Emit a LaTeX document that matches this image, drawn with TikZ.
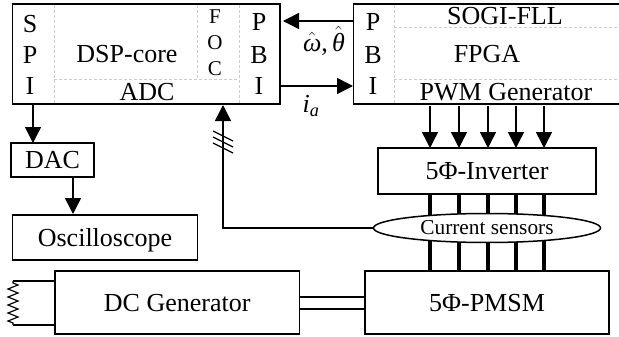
\documentclass[tikz,border=0pt]{standalone}
\usepackage{amsmath}
\usepackage{fontspec}
\setmainfont{Liberation Serif}
\usetikzlibrary{arrows.meta, decorations.pathmorphing, shapes.geometric}

\tikzset{
    block/.style={draw, line width=1.5pt, inner sep=0pt, text height=17pt, text depth=0pt, font=\fontsize{26}{28}\selectfont},
    lbl/.style={inner sep=0pt, font=\fontsize{26}{26}\selectfont},
    foclbl/.style={inner sep=0pt, font=\fontsize{21}{21}\selectfont},
    fine/.style={draw=black!20, line width=1pt, dash pattern=on 3pt off 2pt},
    conn/.style={line width=1.5pt, -{Triangle[length=16pt, width=16pt]}},
    wire/.style={line width=1.2pt},
    phase/.style={line width=4.2pt}
}

\begin{document}
\begin{tikzpicture}[x=1pt, y=-1pt]
    \useasboundingbox (0,0) rectangle (619,337);
    % dsp side
    \node [block, minimum width=267.5pt, minimum height=100pt] (dsp) at (146.25,54) {};
    \node [block, minimum width=267.5pt, minimum height=100pt] (fpga) at (487.25,54) {};
    \draw[fine] (54,5) -- (54,103);
    \draw[fine] (197,5) -- (197,80);
    \draw[fine] (239,5) -- (239,103);
    \draw[fine] (54,80) -- (239,80);
    \draw[fine] (394,5) -- (394,103);
    \draw[fine] (394,28) -- (619,28);
    \draw[fine] (394,80) -- (619,80);
    \node [lbl] (spis) at (30,24) {S};
    \node [lbl] (spip) at (30,55) {P};
    \node [lbl] (spii) at (30,86) {I};
    \node [lbl] (core) at (127,54) {DSP-core};
    \node [foclbl] (focf) at (215,17) {F};
    \node [foclbl] (foco) at (215,43) {O};
    \node [foclbl] (focc) at (215,69) {C};
    \node [lbl] (adc) at (147,92) {ADC};
    \node [lbl] (pbip) at (259,22) {P};
    \node [lbl] (pbib) at (259,55) {B};
    \node [lbl] (pbii) at (259,86) {I};
    % fpga side
    \node [lbl] (pbiq) at (373,22) {P};
    \node [lbl] (pbir) at (373,55) {B};
    \node [lbl] (pbis) at (373,86) {I};
    \node [lbl] (sogi) at (505,16) {SOGI-FLL};
    \node [lbl] (fpgatext) at (487,54) {FPGA};
    \node [lbl] (pwm) at (506,92) {PWM Generator};
    % lower blocks
    \node [block, minimum width=83pt, minimum height=34pt] (dac) at (52.5,160) {DAC};
    \node [block, minimum width=185pt, minimum height=45pt] (osc) at (105,237.5) {Oscilloscope};
    \node [block, minimum width=218pt, minimum height=46pt] (inv) at (487,171) {5Φ-Inverter};
    \node [block, minimum width=244.5pt, minimum height=63pt] (gen) at (177.25,302.5) {DC Generator};
    \node [block, minimum width=244pt, minimum height=63pt] (pmsm) at (487,302.5) {5Φ-PMSM};
    % arrows
    \coordinate (spiout) at (33,104);
    \coordinate (oscin) at (73,214);
    \coordinate (dacout) at (73,177);
    \coordinate (dacin) at (33,143);
    \draw[conn] (spiout) -- (dacin);
    \draw[conn] (dacout) -- (oscin);
    \coordinate (thetaend) at (354,21);
    \coordinate (thetatip) at (283,21);
    \coordinate (curend) at (281,86);
    \coordinate (curtip) at (353,86);
    \draw[conn] (thetaend) -- (thetatip);
    \draw[conn] (curend) -- (curtip);
    \node [lbl] (speed) at (324,41) {$\hat{\text{\itshape ω}}$,\,$\hat{\text{\itshape θ}}$};
    \node [lbl] (ia) at (311,106) {$\text{\itshape i}_{\text{\itshape a}}$};
    \foreach \x/\name in {430/a, 459/b, 488/c, 516/d, 544/e} {
        \coordinate (pwm\name) at (\x,106);
        \coordinate (inv\name) at (\x,148);
        \coordinate (top\name) at (\x,194);
        \coordinate (bot\name) at (\x,271);
        \draw[conn] (pwm\name) -- (inv\name);
        \draw[phase] (top\name) -- (bot\name);
    }
    \node [draw, ellipse, fill=white, line width=1.5pt, minimum width=227pt, minimum height=29pt, inner sep=0pt, font=\fontsize{21.3}{22}\selectfont] (sensors) at (487,228) {Current sensors};
    \coordinate (adcin) at (223,105);
    \coordinate (sensbend) at (223,228);
    \draw[conn] (sensors.west) -- (sensbend) -- (adcin);
    \foreach \y in {131,137,143} {
        \coordinate (hashl) at (213,\y);
        \coordinate (hashr) at (233,\y+10);
        \draw[wire] (hashl) -- (hashr);
    }
    % shaft
    \coordinate (shafta) at (299,297);
    \coordinate (shaftb) at (365,297);
    \coordinate (shaftc) at (299,309);
    \coordinate (shaftd) at (365,309);
    \draw[wire] (shafta) -- (shaftb);
    \draw[wire] (shaftc) -- (shaftd);
    % load resistor
    \coordinate (loada) at (55,281);
    \coordinate (loadb) at (13,281);
    \coordinate (loadc) at (13,325);
    \coordinate (loadd) at (55,325);
    \draw[wire] (loada) -- (loadb);
    \draw[wire] (loadd) -- (loadc);
    \draw[wire, decorate, decoration={zigzag, segment length=8pt, amplitude=5pt, pre length=2pt, post length=2pt}] (loadb) -- (loadc);
\end{tikzpicture}
\end{document}
